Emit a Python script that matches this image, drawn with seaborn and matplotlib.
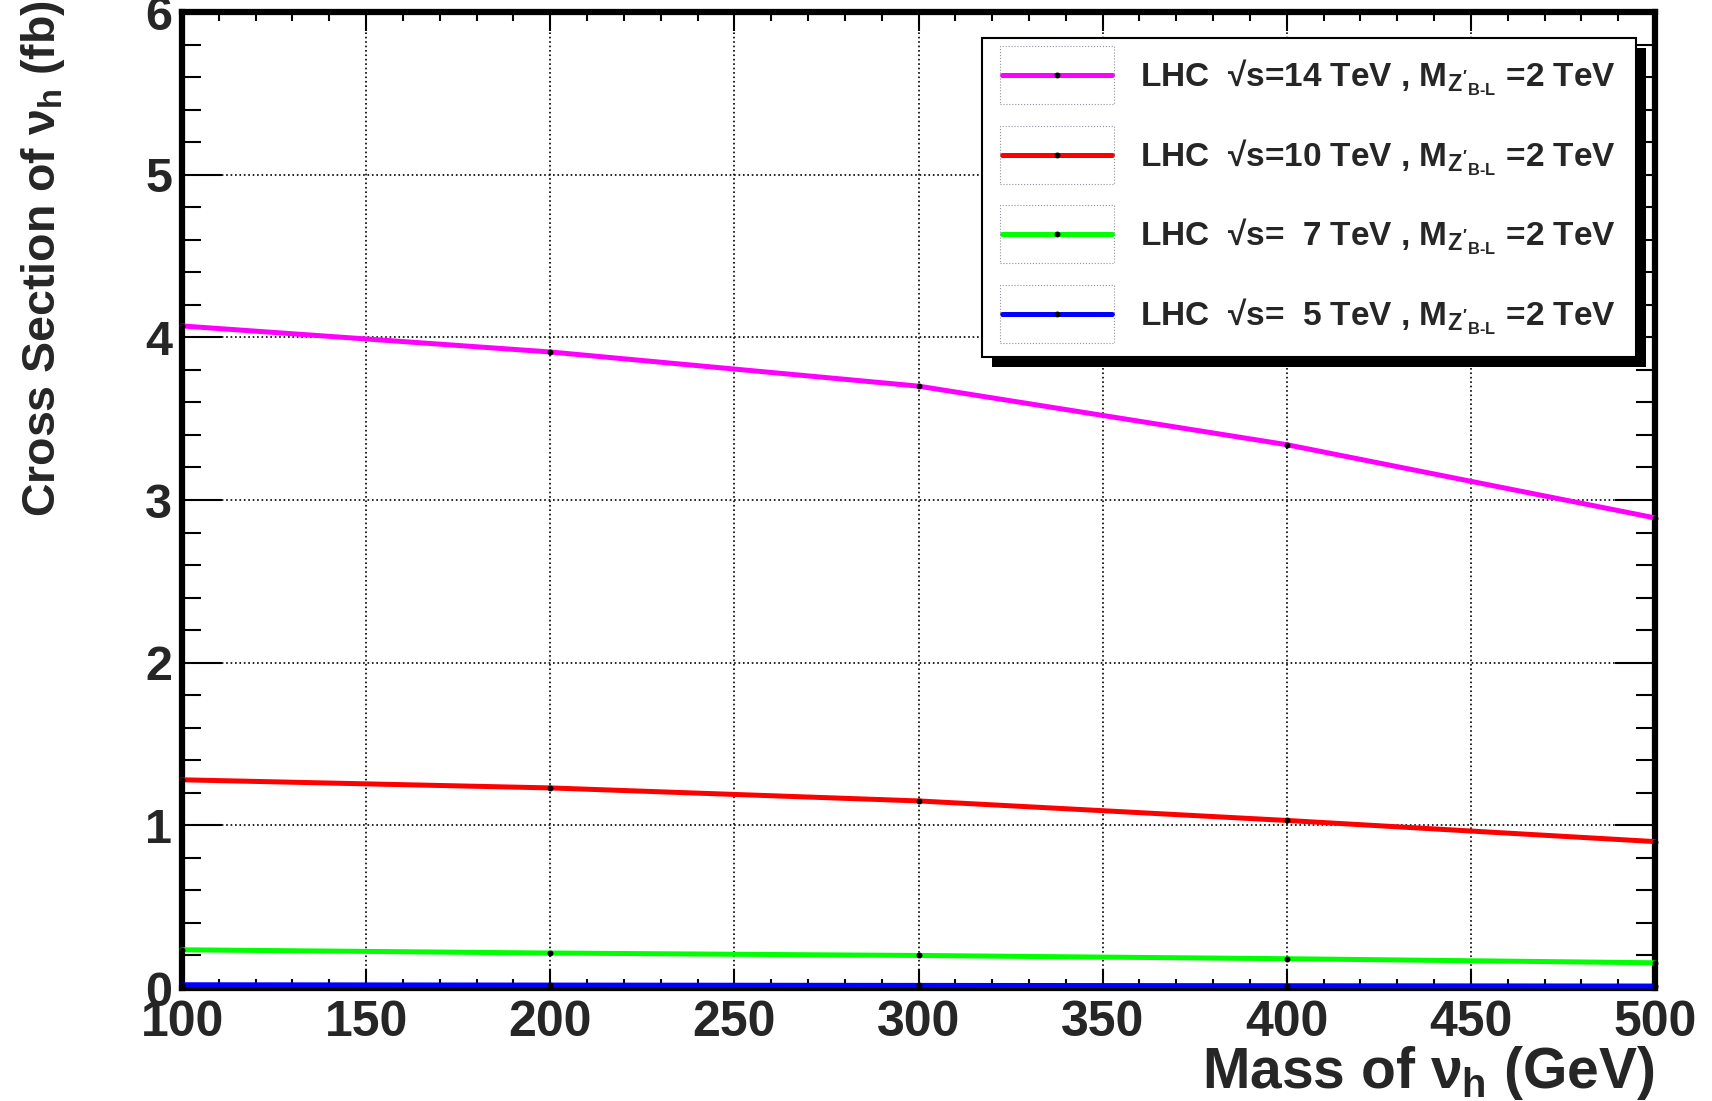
import matplotlib
matplotlib.use("Agg")
import matplotlib.pyplot as plt
from matplotlib.patches import Rectangle
from matplotlib.ticker import MultipleLocator
import pandas as pd
import seaborn as sns

# values
mass = [100, 200, 300, 400, 500]
xs_14 = [4.07, 3.91, 3.70, 3.34, 2.89]
xs_10 = [1.28, 1.23, 1.15, 1.03, 0.90]
xs_7 = [0.235, 0.215, 0.20, 0.18, 0.155]
xs_5 = [0.02, 0.018, 0.016, 0.014, 0.012]

energies = ["14", "10", "  7", "  5"]
colors = ["#ff00ff", "#ff0000", "#00ff00", "#0000ff"]

sns.set_style("ticks")
plt.rcParams["font.family"] = ["Liberation Sans", "DejaVu Sans"]
plt.rcParams["font.weight"] = "bold"
plt.rcParams["mathtext.fontset"] = "custom"
plt.rcParams["mathtext.rm"] = "Liberation Sans:bold"
plt.rcParams["mathtext.it"] = "Liberation Sans:bold"
plt.rcParams["mathtext.bf"] = "Liberation Sans:bold"
plt.rcParams["mathtext.sf"] = "Liberation Sans:bold"

frames = []
for e, vals in zip(energies, [xs_14, xs_10, xs_7, xs_5]):
    label = "LHC  \u221as=" + e + r" TeV , M$_{Z'_{B\text{-}L}}$ =2 TeV"
    frames.append(pd.DataFrame({"mass": mass, "xs": vals, "label": label}))
df = pd.concat(frames, ignore_index=True)

fig = plt.figure(figsize=(17.12, 11.01), dpi=100)
ax = fig.add_axes([182 / 1712, 113 / 1101, (1655 - 182) / 1712, (1089 - 113) / 1101])

for lab, col in zip(df["label"].unique(), colors):
    sub = df[df["label"] == lab]
    sns.lineplot(data=sub, x="mass", y="xs", ax=ax, color=col, lw=3.6,
                 marker="o", markersize=3.5, markerfacecolor="black",
                 markeredgecolor="black", label=lab, clip_on=False, zorder=3)

ax.set_xlim(100, 500)
ax.set_ylim(0, 6)
ax.xaxis.set_major_locator(MultipleLocator(50))
ax.xaxis.set_minor_locator(MultipleLocator(10))
ax.yaxis.set_major_locator(MultipleLocator(1))
ax.yaxis.set_minor_locator(MultipleLocator(0.2))
ax.grid(True, which="major", ls=":", color="black", lw=1.2)

ax.tick_params(which="both", direction="in", top=True, right=True, width=1.5, color="black")
ax.tick_params(axis="x", which="major", length=14, labelsize=36, pad=9)
ax.tick_params(axis="x", which="minor", length=6.5)
ax.tick_params(axis="y", which="major", length=29, labelsize=35, pad=7)
ax.tick_params(axis="y", which="minor", length=14)
for s in ax.spines.values():
    s.set_linewidth(4.5)
    s.set_color("black")

ax.set_xlabel(r"Mass of $\nu_h$ (GeV)", fontsize=41, fontweight="bold", loc="right")
ax.set_ylabel(r"Cross Section of $\nu_h$ (fb)", fontsize=33.5, fontweight="bold", loc="top")
ax.xaxis.set_label_coords(1.0, -0.057)
ax.yaxis.set_label_coords(-0.078, 1.012)

leg = ax.legend(loc="upper left", bbox_to_anchor=(982 / 1712, 1 - 38 / 1101),
                bbox_transform=fig.transFigure, borderaxespad=0, fontsize=24,
                frameon=True, fancybox=False, framealpha=1, edgecolor="black",
                handlelength=3.3, handletextpad=0.84, labelspacing=1.18,
                borderpad=0.6, numpoints=1)
leg.get_frame().set_linewidth(1.5)
leg.set_zorder(6)

# ROOT-style solid shadow behind the legend box, and dotted boxes round the samples
fig.canvas.draw()
renderer = fig.canvas.get_renderer()
bb = leg.get_window_extent(renderer)
ax.add_patch(Rectangle((bb.x0 + 10, bb.y0 - 10), bb.width, bb.height, transform=None,
                       facecolor="black", edgecolor="none", zorder=5.5, clip_on=False))
for h in leg.legend_handles:
    hb = h.get_window_extent(renderer)
    yc = 0.5 * (hb.y0 + hb.y1)
    fig.patches.append(Rectangle((hb.x0, yc - 29), hb.width, 58, transform=None,
                                 facecolor="none", edgecolor="#9090a0", lw=0.8,
                                 ls=":", zorder=7))

fig.savefig("out.png", dpi=100)
